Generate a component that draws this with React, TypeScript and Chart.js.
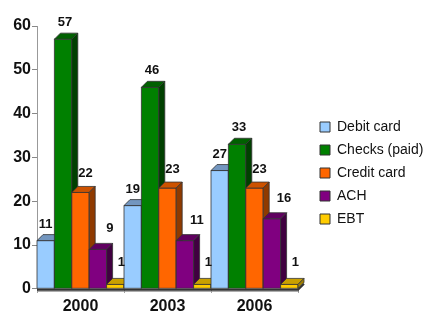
import React, { useEffect, useRef } from "react";
import { Chart, registerables } from "chart.js";

Chart.register(...registerables);

const years = ["2000", "2003", "2006"];
const seriesNames = ["Debit card", "Checks (paid)", "Credit card", "ACH", "EBT"];
const debitCard = [11, 19, 27];
const checksPaid = [57, 46, 33];
const creditCard = [22, 23, 23];
const ach = [9, 11, 16];
const ebt = [1, 1, 1];
const yMin = 0;
const yMax = 60;
const yStep = 10;

const seriesValues = [debitCard, checksPaid, creditCard, ach, ebt];

const frontColors = ["#99CCFF", "#008000", "#FF6600", "#800080", "#FFCC00"];
const topColors = ["#7396BF", "#006000", "#CC5200", "#600060", "#C9A000"];
const sideColors = ["#6685AA", "#004000", "#8F3A00", "#400040", "#A08000"];
const labelDx = [0, 2, 5, 12, 6];
const labelDy = [13, 13, 15, 17, 18];

const DEPTH = 6;
const FONT = "'Liberation Sans', Arial, sans-serif";

const bars3d = {
  id: "bars3d",
  beforeDatasetsDraw(chart: any) {
    const ctx = chart.ctx;
    const area = chart.chartArea;
    const d = DEPTH;
    ctx.save();
    ctx.strokeStyle = "#999";
    ctx.lineWidth = 1;
    ctx.beginPath();
    ctx.moveTo(area.left, area.bottom + 2.5);
    ctx.lineTo(area.right, area.bottom + 2.5);
    ctx.stroke();
    ctx.strokeStyle = "#333";
    ctx.lineWidth = 2;
    ctx.beginPath();
    ctx.moveTo(area.left, area.bottom + 1);
    ctx.lineTo(area.right, area.bottom + 1);
    ctx.lineTo(area.right + d, area.bottom + 1 - d);
    ctx.stroke();

    ctx.lineWidth = 0.8;
    ctx.strokeStyle = "#333";
    ctx.lineJoin = "round";
    const n = chart.data.labels.length;
    for (let j = 0; j < n; j++) {
      chart.data.datasets.forEach((_ds: any, i: number) => {
        if (!chart.isDatasetVisible(i)) return;
        const el = chart.getDatasetMeta(i).data[j];
        const { x, y, base, width } = el.getProps(["x", "y", "base", "width"], true);
        const l = x - width / 2;
        const r = x + width / 2;
        ctx.fillStyle = frontColors[i];
        ctx.beginPath();
        ctx.rect(l, y, width, base - y);
        ctx.fill();
        ctx.stroke();
        ctx.fillStyle = topColors[i];
        ctx.beginPath();
        ctx.moveTo(l, y);
        ctx.lineTo(l + d, y - d);
        ctx.lineTo(r + d, y - d);
        ctx.lineTo(r, y);
        ctx.closePath();
        ctx.fill();
        ctx.stroke();
        ctx.fillStyle = sideColors[i];
        ctx.beginPath();
        ctx.moveTo(r, y);
        ctx.lineTo(r + d, y - d);
        ctx.lineTo(r + d, base - d);
        ctx.lineTo(r, base);
        ctx.closePath();
        ctx.fill();
        ctx.stroke();
      });
    }
    ctx.restore();
    return false;
  },
  afterDraw(chart: any) {
    const ctx = chart.ctx;
    ctx.save();
    ctx.font = `bold 13px ${FONT}`;
    ctx.fillStyle = "#111";
    ctx.textAlign = "center";
    ctx.textBaseline = "alphabetic";
    chart.data.datasets.forEach((ds: any, i: number) => {
      if (!chart.isDatasetVisible(i)) return;
      chart.getDatasetMeta(i).data.forEach((el: any, j: number) => {
        const { x, y } = el.getProps(["x", "y"], true);
        ctx.fillText(String(ds.data[j]), x + labelDx[i], y - labelDy[i]);
      });
    });
    ctx.restore();
  },
};

export default function App() {
  const ref = useRef<HTMLCanvasElement | null>(null);
  useEffect(() => {
    document.body.style.margin = "0";
    if (!ref.current) return;
    const chart = new Chart(ref.current, {
      type: "bar",
      data: {
        labels: years,
        datasets: seriesNames.map((name, i) => ({
          label: name,
          data: seriesValues[i],
          backgroundColor: frontColors[i],
          borderColor: "#333",
          borderWidth: 1,
          categoryPercentage: 1,
          barPercentage: 1,
        })),
      },
      options: {
        animation: false,
        responsive: false,
        layout: { padding: { top: 26, bottom: 0, left: 0, right: 0 } },
        plugins: {
          legend: {
            position: "right",
            maxWidth: 113,
            labels: {
              boxWidth: 10,
              boxHeight: 10,
              padding: 9,
              color: "#111",
              font: { family: FONT, size: 14 },
            },
          },
          tooltip: { enabled: false },
        },
        scales: {
          x: {
            grid: { display: true, drawOnChartArea: false, drawTicks: true, tickLength: 4, offset: true, color: "#888" },
            border: { display: false },
            ticks: { color: "#111", padding: 4, font: { family: FONT, size: 16, weight: "bold" } },
          },
          y: {
            min: yMin,
            max: yMax,
            afterFit: (s: any) => {
              s.width = 37;
            },
            grid: { display: true, drawOnChartArea: false, drawTicks: true, tickLength: 5, color: "#888" },
            border: { display: true, color: "#999", width: 1 },
            ticks: { stepSize: yStep, color: "#111", padding: 1, font: { family: FONT, size: 16, weight: "bold" } },
          },
          y2: {
            position: "right",
            display: true,
            grid: { display: false },
            border: { display: false },
            ticks: { display: false },
            afterFit: (s: any) => {
              s.width = 13;
            },
          },
        },
      },
      plugins: [bars3d],
    } as any);
    return () => chart.destroy();
  }, []);
  return (
    <div style={{ width: 424, height: 320 }}>
      <canvas ref={ref} width={424} height={320} />
    </div>
  );
}
